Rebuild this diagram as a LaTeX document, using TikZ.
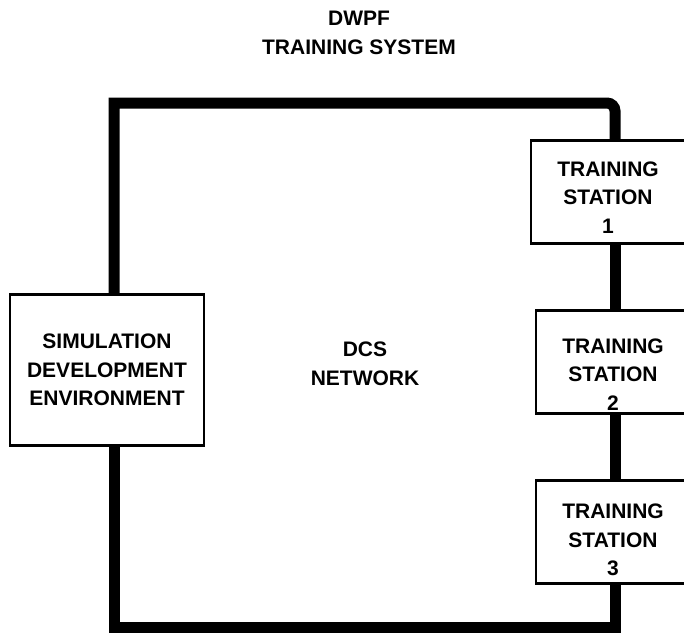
\documentclass[tikz,border=0pt]{standalone}
\usepackage{fontspec}
\setmainfont{Liberation Sans}

\tikzset{
  txt/.style={align=center, font=\fontsize{21}{28.5}\selectfont\bfseries},
  box/.style={txt, draw, line width=2.5pt, fill=white, inner sep=0pt},
  station/.style={box, minimum width=154pt, minimum height=103pt},
  drop/.style={execute at begin node={\rule{0pt}{#1}}},
  bus/.style={line width=11pt}
}

\begin{document}
\begin{tikzpicture}[x=1pt,y=-1pt]
\clip (0,0) rectangle (684,633);
\node [txt] (title) at (359,33) {DWPF\\TRAINING SYSTEM};
\node [txt] (net) at (365,364) {DCS\\NETWORK};
\node [box, minimum width=194pt, minimum height=151pt] (sde) at (107,370) {SIMULATION\\DEVELOPMENT\\ENVIRONMENT};
\node [station, drop=82pt] (ts1) at (608,192) {TRAINING\\STATION\\1};
\node [station, drop=96pt] (ts2) at (613,362) {TRAINING\\STATION\\2};
\node [station, drop=88pt] (ts3) at (613,532) {TRAINING\\STATION\\3};
\coordinate (busL) at (114,0);
\coordinate (busR) at (615,0);
\coordinate (topline) at (0,103);
\coordinate (botline) at (0,627);
\draw [bus] (sde.north -| busL) -- (busL |- topline) [rounded corners=8pt] -- (busR |- topline) [sharp corners] -- (ts1.north -| busR);
\draw [bus] (ts1.south -| busR) -- (ts2.north -| busR);
\draw [bus] (ts2.south -| busR) -- (ts3.north -| busR);
\draw [bus] (sde.south -| busL) |- (busR |- botline) -- (ts3.south -| busR);
\end{tikzpicture}
\end{document}
